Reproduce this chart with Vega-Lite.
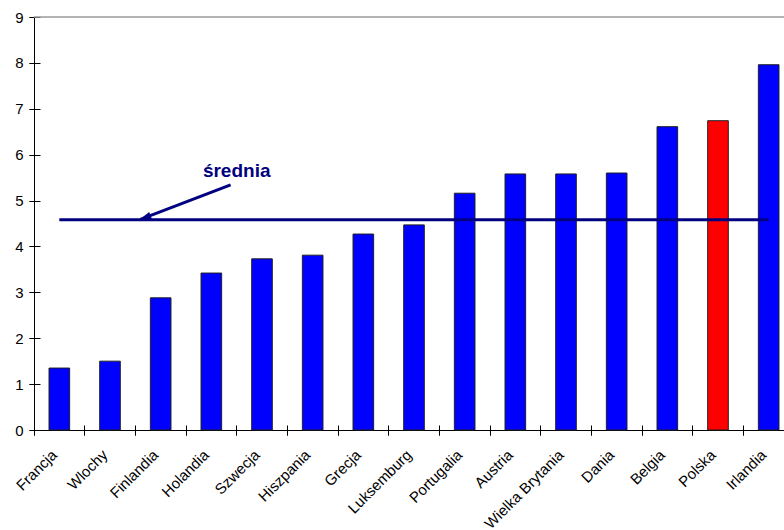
{
  "$schema": "https://vega.github.io/schema/vega-lite/v6.json",
  "width": 750,
  "height": 413,
  "autosize": {"type": "none"},
  "padding": {"left": 34, "top": 17, "right": 0, "bottom": 100},
  "background": "white",
  "config": {
    "view": {"stroke": null},
    "font": "Liberation Sans",
    "axis": {
      "grid": false,
      "title": null,
      "domainColor": "#000000",
      "tickColor": "#000000",
      "labelColor": "#000000",
      "labelFont": "Liberation Sans",
      "labelFontSize": 15
    }
  },
  "layer": [
    {
      "data": {
        "values": [
          {"kraj": "Francja", "wartosc": 1.35},
          {"kraj": "Wlochy", "wartosc": 1.5},
          {"kraj": "Finlandia", "wartosc": 2.88},
          {"kraj": "Holandia", "wartosc": 3.42},
          {"kraj": "Szwecja", "wartosc": 3.73},
          {"kraj": "Hiszpania", "wartosc": 3.81},
          {"kraj": "Grecja", "wartosc": 4.27},
          {"kraj": "Luksemburg", "wartosc": 4.47},
          {"kraj": "Portugalia", "wartosc": 5.16},
          {"kraj": "Austria", "wartosc": 5.58},
          {"kraj": "Wielka Brytania", "wartosc": 5.58},
          {"kraj": "Dania", "wartosc": 5.6},
          {"kraj": "Belgia", "wartosc": 6.61},
          {"kraj": "Polska", "wartosc": 6.74},
          {"kraj": "Irlandia", "wartosc": 7.96}
        ]
      },
      "layer": [
        {
          "mark": {"type": "bar", "width": {"band": 0.407}, "stroke": "#202020", "strokeWidth": 1},
          "encoding": {
            "x": {
              "field": "kraj",
              "type": "nominal",
              "sort": null,
              "scale": {
                "domain": ["Francja", "Wlochy", "Finlandia", "Holandia", "Szwecja", "Hiszpania", "Grecja", "Luksemburg", "Portugalia", "Austria", "Wielka Brytania", "Dania", "Belgia", "Polska", "Irlandia"],
                "range": [0, 760],
                "paddingInner": 0,
                "paddingOuter": 0
              },
              "axis": {
                "bandPosition": 0,
                "labelAngle": -45,
                "labelAlign": "right",
                "labelBaseline": "middle",
                "labelOffset": -5,
                "labelPadding": 17,
                "tickSize": 5,
                "labelOverlap": false
              }
            },
            "y": {
              "field": "wartosc",
              "type": "quantitative",
              "scale": {"domain": [0, 9], "nice": false},
              "axis": {"values": [0, 1, 2, 3, 4, 5, 6, 7, 8, 9], "tickSize": 5, "labelPadding": 6}
            },
            "fill": {
              "condition": {"test": "datum.kraj === 'Polska'", "value": "#FF0000"},
              "value": "#0000FF"
            }
          }
        },
        {
          "data": {"values": [{"gora": 9}]},
          "mark": {"type": "rule", "color": "#9a9a9a", "strokeWidth": 1.5},
          "encoding": {
            "y": {
              "field": "gora",
              "type": "quantitative",
              "axis": {"orient": "left", "offset": -6, "values": [0, 1, 2, 3, 4, 5, 6, 7, 8, 9], "labels": false, "domain": false, "tickSize": 11}
            }
          }
        },
        {
          "data": {"values": [{"od": "Francja", "do": "Irlandia", "srednia": 4.58}]},
          "mark": {"type": "rule", "color": "#000080", "strokeWidth": 3},
          "encoding": {
            "x": {
              "field": "od",
              "type": "nominal",
              "axis": {"orient": "bottom", "offset": -5, "bandPosition": 0, "labels": false, "domain": false, "tickSize": 10}
            },
            "x2": {"field": "do"},
            "y": {"field": "srednia", "type": "quantitative", "axis": null}
          }
        }
      ],
      "resolve": {"axis": {"x": "independent", "y": "independent"}}
    },
    {
      "layer": [
        {
          "data": {"values": [{"x": 3.88, "y": 5.34, "x2": 2.1, "y2": 4.59}]},
          "mark": {"type": "rule", "color": "#000080", "strokeWidth": 3},
          "encoding": {
            "x": {"field": "x", "type": "quantitative", "scale": {"domain": [0, 14.8], "nice": false, "zero": false}, "axis": null},
            "x2": {"field": "x2"},
            "y": {"field": "y", "type": "quantitative", "axis": null},
            "y2": {"field": "y2"}
          }
        },
        {
          "data": {"values": [{"x": 2.08, "y": 4.58}]},
          "mark": {
            "type": "point",
            "shape": "M0,0L0.65,2L-0.65,2Z",
            "filled": true,
            "opacity": 1,
            "color": "#000080",
            "size": 144,
            "angle": 249
          },
          "encoding": {
            "x": {"field": "x", "type": "quantitative", "axis": null},
            "y": {"field": "y", "type": "quantitative", "axis": null}
          }
        },
        {
          "data": {"values": [{"x": 4.0, "y": 5.52, "napis": "średnia"}]},
          "mark": {"type": "text", "font": "Liberation Sans", "fontSize": 19, "fontWeight": "bold", "color": "#000080", "align": "center", "baseline": "alphabetic"},
          "encoding": {
            "x": {"field": "x", "type": "quantitative", "axis": null},
            "y": {"field": "y", "type": "quantitative", "axis": null},
            "text": {"field": "napis"}
          }
        }
      ]
    }
  ],
  "resolve": {"scale": {"x": "independent"}, "axis": {"x": "independent", "y": "independent"}}
}
